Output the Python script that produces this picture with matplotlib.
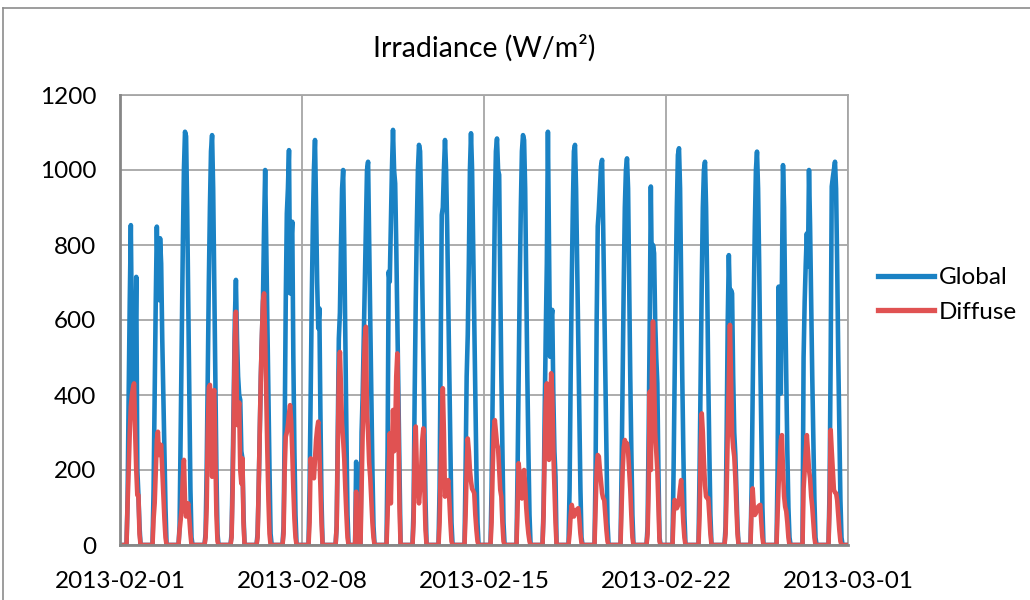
import matplotlib
matplotlib.use("Agg")
import matplotlib.pyplot as plt
from matplotlib.lines import Line2D

# ---------------- data ----------------
title = "Irradiance (W/m²)"
series_names = ["Global", "Diffuse"]
x_tick_labels = ["2013-02-01", "2013-02-08", "2013-02-15", "2013-02-22", "2013-03-01"]
x_tick_days = [0, 7, 14, 21, 28]
y_ticks = [0, 200, 400, 600, 800, 1000, 1200]
n_days = 28

# hours of the day that carry values (others are night = 0)
daylight_hours = [6, 7, 8, 9, 10, 11, 12, 13, 14, 15, 16, 17, 18, 19]

global_daylight = [
    [0, 120, 400, 650, 853, 550, 420, 440, 500, 715, 200, 133, 50, 0],
    [0, 150, 400, 650, 849, 700, 653, 818, 750, 550, 400, 250, 100, 0],
    [0, 50, 300, 550, 800, 1000, 1102, 1090, 900, 650, 400, 150, 20, 0],
    [0, 30, 200, 450, 700, 900, 1050, 1093, 950, 700, 450, 200, 30, 0],
    [0, 30, 200, 400, 600, 707, 550, 450, 400, 387, 250, 231, 80, 0],
    [0, 30, 150, 300, 450, 560, 660, 850, 1000, 800, 600, 400, 200, 30],
    [0, 50, 300, 650, 884, 950, 1053, 671, 800, 862, 500, 250, 80, 0],
    [0, 150, 400, 650, 850, 1000, 1080, 900, 700, 578, 631, 350, 120, 0],
    [0, 0, 50, 300, 550, 620, 800, 950, 1000, 800, 550, 300, 80, 0],
    [0, 300, 400, 550, 700, 850, 1000, 1022, 800, 600, 400, 200, 50, 0],
    [0, 250, 729, 702, 850, 1000, 1107, 1000, 964, 800, 600, 400, 200, 0],
    [0, 100, 400, 650, 850, 1000, 1067, 1050, 900, 700, 500, 300, 120, 0],
    [0, 150, 500, 880, 900, 1000, 1080, 1000, 850, 650, 450, 250, 60, 0],
    [0, 200, 450, 560, 750, 1000, 1098, 1000, 800, 600, 400, 200, 60, 0],
    [0, 150, 400, 650, 900, 1050, 1084, 1000, 987, 700, 450, 250, 60, 0],
    [0, 200, 450, 700, 900, 1050, 1093, 1080, 950, 700, 450, 250, 80, 0],
    [0, 100, 350, 564, 750, 1102, 800, 502, 600, 627, 400, 250, 182, 0],
    [0, 150, 450, 700, 900, 1050, 1067, 950, 750, 550, 350, 150, 20, 0],
    [0, 200, 600, 850, 893, 950, 1010, 1027, 850, 650, 450, 250, 60, 0],
    [0, 200, 450, 700, 900, 1000, 1031, 950, 700, 450, 250, 80, 0, 0],
    [0, 50, 300, 600, 956, 700, 800, 778, 600, 500, 431, 200, 20, 0],
    [0, 200, 450, 700, 900, 1040, 1058, 950, 700, 450, 250, 80, 0, 0],
    [0, 200, 450, 700, 900, 1000, 1022, 900, 700, 450, 250, 80, 0, 0],
    [0, 50, 300, 600, 773, 650, 680, 671, 450, 300, 240, 150, 50, 0],
    [0, 150, 400, 650, 850, 1000, 1049, 950, 750, 500, 300, 100, 0, 0],
    [0, 200, 689, 500, 404, 700, 1013, 900, 650, 450, 250, 100, 20, 0],
    [0, 500, 649, 750, 831, 742, 1000, 850, 650, 450, 280, 120, 20, 0],
    [0, 150, 500, 956, 980, 1000, 1022, 950, 750, 500, 300, 120, 20, 0],
]

diffuse_daylight = [
    [0, 111, 200, 300, 369, 400, 420, 431, 300, 200, 133, 133, 30, 0],
    [0, 70, 111, 200, 280, 302, 240, 260, 267, 200, 130, 70, 20, 0],
    [0, 40, 67, 100, 180, 227, 120, 76, 100, 111, 70, 30, 0, 0],
    [0, 20, 100, 300, 420, 427, 380, 182, 400, 413, 250, 80, 10, 0],
    [0, 20, 150, 350, 550, 622, 320, 350, 380, 200, 164, 231, 60, 0],
    [0, 20, 150, 300, 450, 560, 650, 671, 550, 400, 250, 120, 30, 0],
    [0, 30, 200, 289, 300, 320, 350, 373, 330, 250, 150, 70, 20, 0],
    [0, 60, 231, 200, 190, 178, 230, 280, 310, 329, 250, 150, 60, 0],
    [0, 0, 50, 250, 450, 515, 420, 320, 280, 230, 150, 80, 20, 0],
    [0, 150, 300, 450, 550, 582, 350, 300, 220, 180, 120, 60, 20, 0],
    [0, 80, 200, 298, 111, 250, 360, 250, 300, 450, 511, 300, 100, 0],
    [0, 60, 250, 316, 200, 150, 111, 150, 200, 280, 311, 150, 40, 0],
    [0, 60, 200, 300, 418, 300, 129, 150, 160, 173, 120, 60, 10, 0],
    [0, 80, 200, 284, 250, 200, 170, 150, 145, 138, 80, 40, 10, 0],
    [0, 60, 200, 300, 333, 300, 270, 258, 200, 147, 129, 60, 10, 0],
    [0, 100, 218, 180, 150, 124, 160, 200, 160, 100, 60, 30, 10, 0],
    [0, 80, 250, 380, 431, 300, 227, 350, 458, 400, 250, 150, 60, 0],
    [0, 30, 80, 107, 90, 76, 85, 93, 95, 98, 70, 30, 5, 0],
    [0, 100, 200, 240, 236, 200, 170, 138, 125, 120, 80, 40, 10, 0],
    [0, 100, 200, 260, 280, 270, 271, 250, 200, 150, 80, 20, 0, 0],
    [0, 30, 150, 409, 200, 450, 596, 450, 300, 250, 200, 100, 10, 0],
    [0, 80, 120, 110, 98, 105, 120, 150, 173, 120, 60, 20, 0, 0],
    [0, 80, 250, 351, 300, 220, 160, 129, 125, 125, 80, 30, 0, 0],
    [0, 30, 150, 300, 450, 587, 450, 298, 260, 236, 180, 100, 30, 0],
    [0, 100, 151, 100, 80, 85, 95, 102, 105, 107, 60, 20, 0, 0],
    [0, 80, 164, 220, 280, 293, 200, 130, 102, 90, 60, 20, 0, 0],
    [0, 150, 200, 250, 293, 250, 200, 178, 130, 102, 60, 20, 0, 0],
    [0, 100, 307, 250, 200, 147, 140, 138, 120, 80, 40, 10, 0, 0],
]

# one short night-time reading (day index 9 = 2013-02-10, 02:00)
night_spike_day = 9
night_spike_hour = 2
night_spike_global = 222
night_spike_diffuse = 142

# ---------------- build hourly series ----------------
def build(daylight, spike_value):
    t, v = [], []
    for d in range(n_days):
        day_vals = dict(zip(daylight_hours, daylight[d]))
        for h in range(24):
            val = day_vals.get(h, 0)
            if d == night_spike_day and h == night_spike_hour:
                val = spike_value
            t.append(d + h / 24.0)
            v.append(val)
    t.append(float(n_days))
    v.append(0)
    return t, v

tg, vg = build(global_daylight, night_spike_global)
td, vd = build(diffuse_daylight, night_spike_diffuse)

# ---------------- figure ----------------
plt.rcParams['font.family'] = ['Lato', 'DejaVu Sans']
W, H = 1030, 600
fig = plt.figure(figsize=(W / 100, H / 100), dpi=100)
fig.patch.set_facecolor('white')

# outer chart frame (left and top edges visible)
fig.add_artist(Line2D([3 / W, 3 / W], [0, 1 - 8 / H], color='#8c8c8c', lw=1.2))
fig.add_artist(Line2D([3 / W, 1], [1 - 8 / H, 1 - 8 / H], color='#8c8c8c', lw=1.2))

left, right, top, bottom = 120, 848, 95, 545
ax = fig.add_axes([left / W, 1 - bottom / H, (right - left) / W, (bottom - top) / H])

blue = '#1a82c4'
red = '#e05252'
ax.plot(tg, vg, color=blue, lw=3.3, solid_joinstyle='round', label=series_names[0], zorder=3)
ax.plot(td, vd, color=red, lw=3.3, solid_joinstyle='round', label=series_names[1], zorder=4)

ax.set_xlim(0, n_days)
ax.set_ylim(0, 1200)
ax.set_yticks(y_ticks)
ax.set_yticklabels([str(v) for v in y_ticks])
ax.set_xticks(x_tick_days)
ax.set_xticklabels(x_tick_labels)

ax.grid(True, color='#a6a6a6', lw=1.3, zorder=0)
ax.set_axisbelow(True)
for s in ['top', 'right']:
    ax.spines[s].set_color('#a6a6a6')
    ax.spines[s].set_linewidth(1.3)
for s in ['left', 'bottom']:
    ax.spines[s].set_color('#868686')
    ax.spines[s].set_linewidth(2.0)
    ax.spines[s].set_zorder(5)

ax.tick_params(axis='both', length=0, labelsize=17.5, colors='black')
ax.tick_params(axis='y', pad=17)
ax.tick_params(axis='x', pad=19)

fig.text((left + right) / 2 / W, 1 - 48 / H, title, ha='center', va='center', fontsize=20.5)

leg = ax.legend(loc='center left', bbox_to_anchor=(868 / W, 1 - 295 / H),
                bbox_transform=fig.transFigure, frameon=False, fontsize=17.5,
                handlelength=2.3, handletextpad=0.2, labelspacing=0.55, borderaxespad=0)
for l in leg.get_lines():
    l.set_linewidth(3.8)

fig.savefig('out.png', dpi=100, facecolor='white')
